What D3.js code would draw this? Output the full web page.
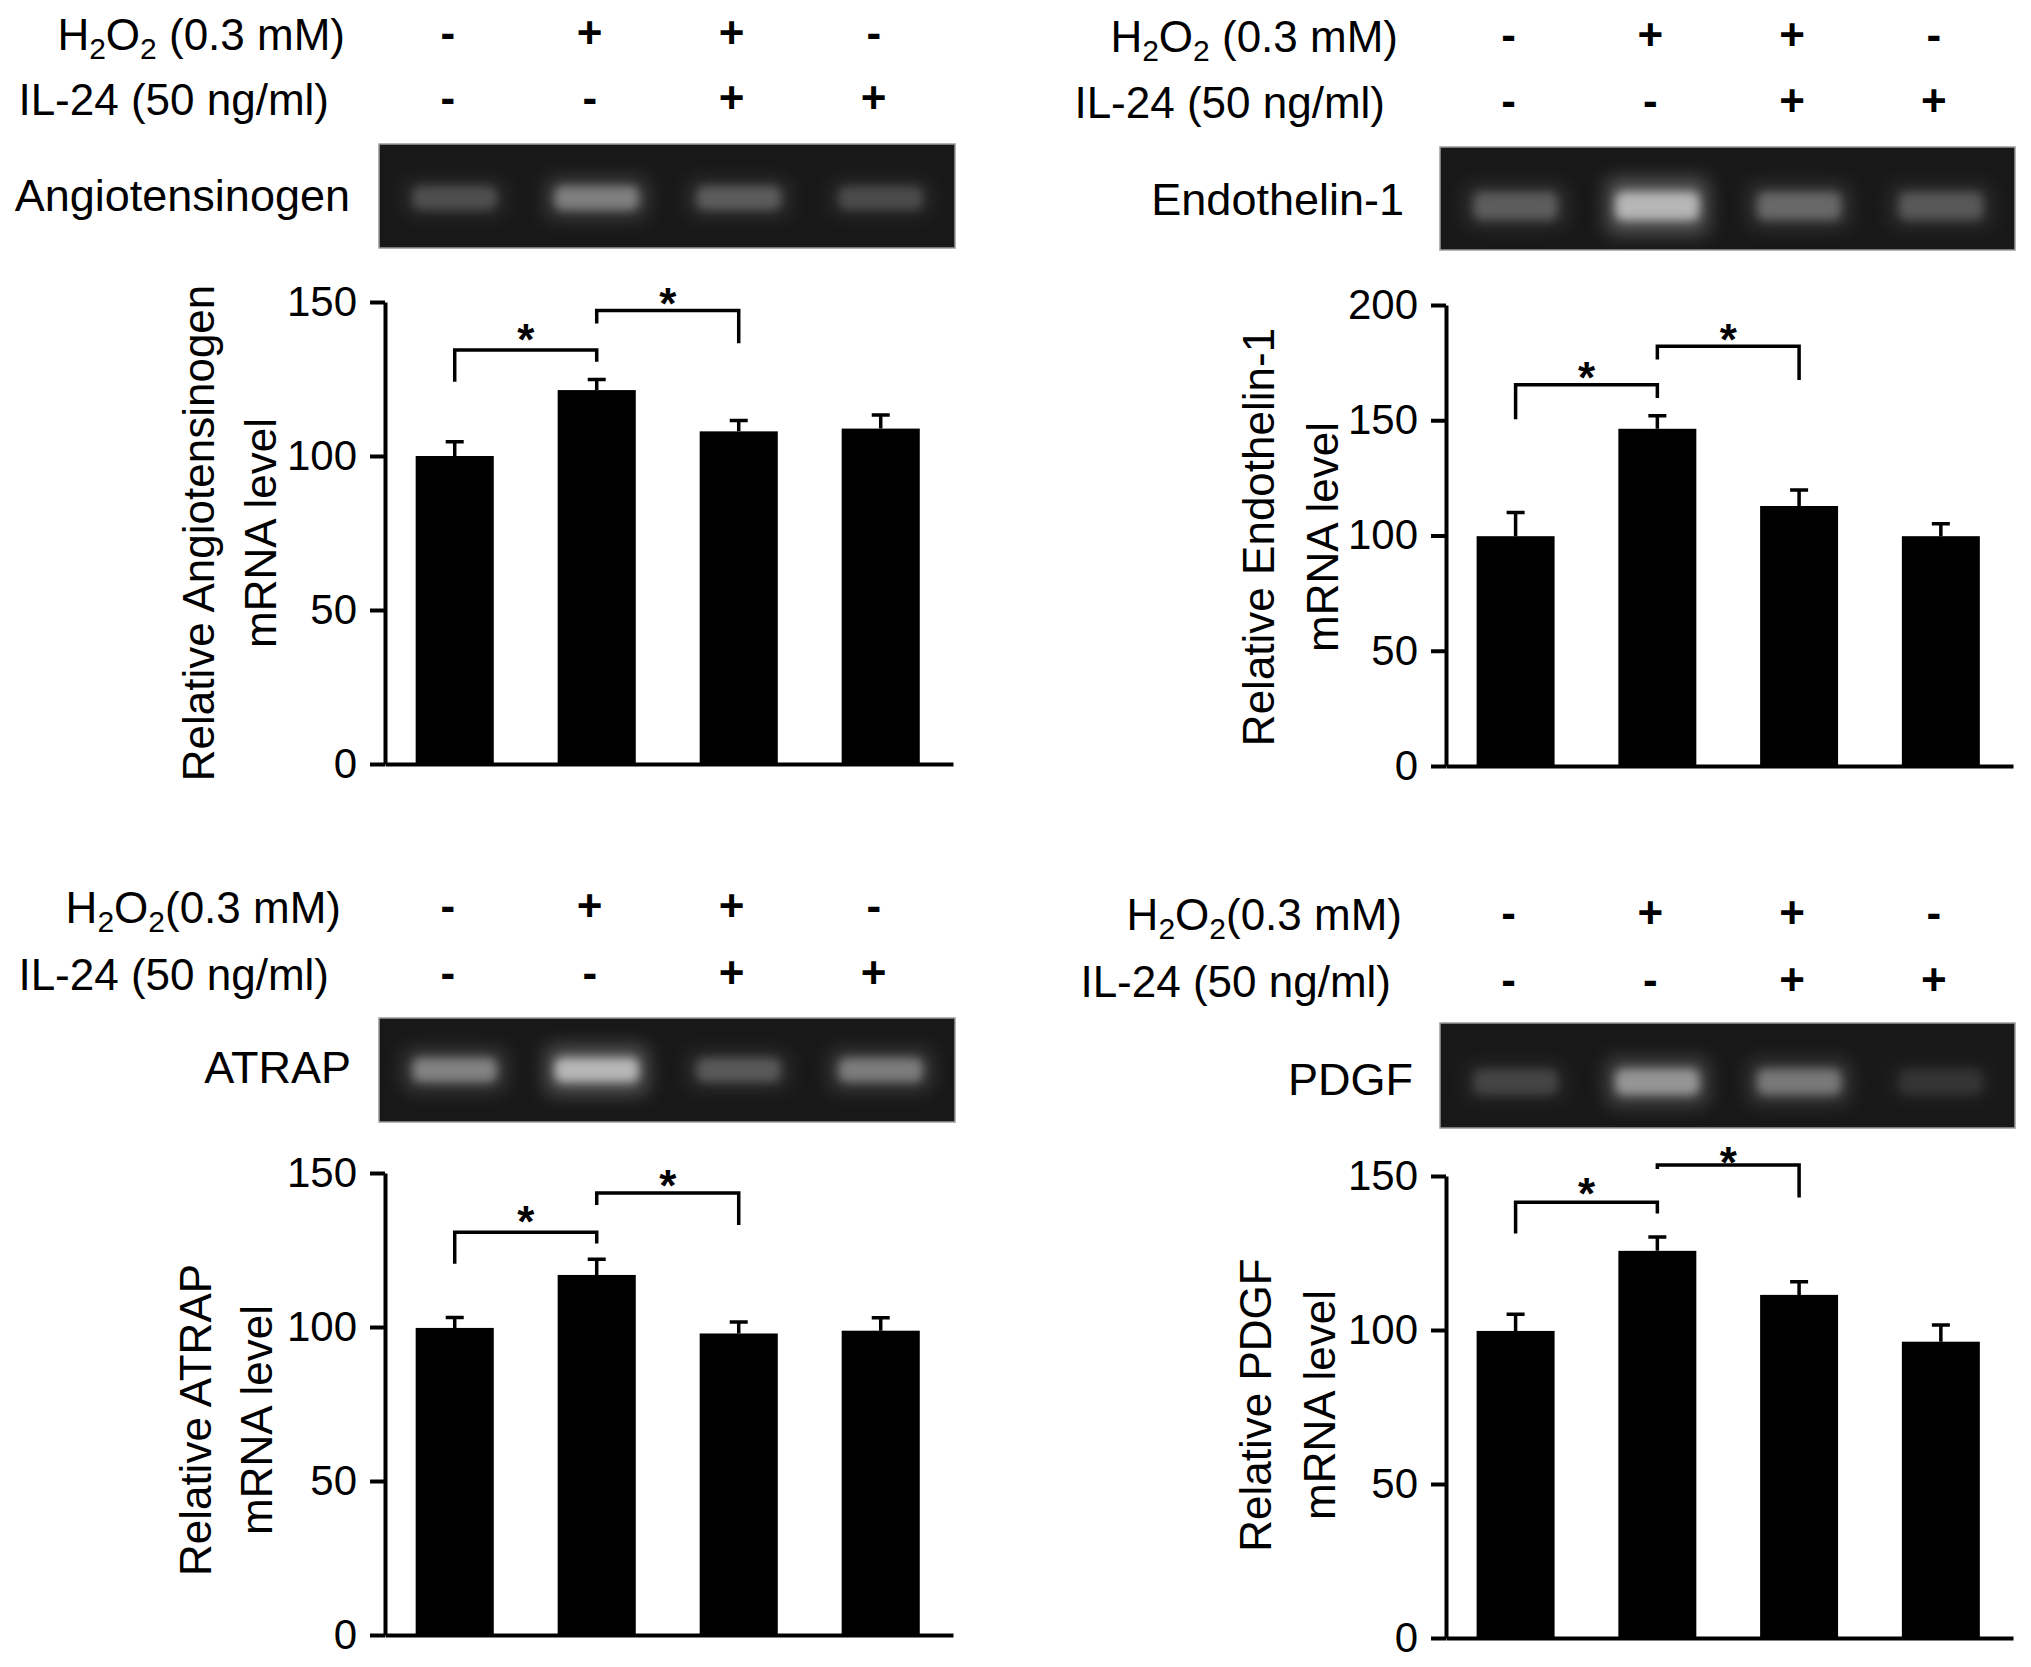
<!DOCTYPE html>
<html>
<head>
<meta charset="utf-8">
<script src="https://cdn.jsdelivr.net/npm/d3@7"></script>
<style>
body { margin: 0; background: #fff; }
svg text { font-family: "Liberation Sans", Arial, sans-serif; fill: #000; }
</style>
</head>
<body>
<div id="fig"></div>
<script>
var width = 2031
var height = 1667

// groups / treatment signs
var groups = ["ctrl", "h2o2", "h2o2_il24", "il24"]
var h2o2Signs = ["-", "+", "+", "-"]
var il24Signs = ["-", "-", "+", "+"]

// bar values (mean) and error (SE)
var angMean = [100, 121.4, 108, 108.9]
var angErr = [4.6, 3.4, 3.5, 4.4]
var et1Mean = [99.7, 146.3, 112.8, 99.7]
var et1Err = [10.3, 5.6, 6.9, 5.4]
var atrapMean = [99.7, 116.9, 97.9, 98.8]
var atrapErr = [3.4, 5.1, 3.7, 4.2]
var pdgfMean = [99.7, 125.7, 111.4, 96.2]
var pdgfErr = [5.4, 4.5, 4.3, 5.4]

// gel band brightness per lane (0..1)
var angBand = [0.3, 0.6, 0.38, 0.28]
var et1Band = [0.38, 1, 0.45, 0.35]
var atrapBand = [0.62, 1, 0.36, 0.58]
var pdgfBand = [0.24, 0.75, 0.55, 0.15]

// significance brackets: [from, to, level, left leg end, right leg end, star level]
var angBrackets = [[0, 1, 134.4, 124.1, 130.6, 141.3], [1, 2, 147.2, 143.0, 136.6, 153.0]]
var et1Brackets = [[0, 1, 165.4, 150.4, 159.7, 173.1], [1, 2, 182.1, 176.4, 167.5, 189.6]]
var atrapBrackets = [[0, 1, 130.8, 120.5, 127.1, 137.6], [1, 2, 143.5, 139.6, 133.1, 149.4]]
var pdgfBrackets = [[0, 1, 141.5, 131.3, 137.8, 147.7], [1, 2, 153.6, 152.3, 143.0, 157.9]]

var ticks150 = [0, 50, 100, 150]
var ticks200 = [0, 50, 100, 150, 200]

var panels = [
    {gene: "Angiotensinogen", title: "Relative Angiotensinogen", mean: angMean, err: angErr, band: angBand,
     brackets: angBrackets, ticks: ticks150, space: " ",
     xr: [385, 953], yr: [764, 302], rows: [50, 115], rowX: [345, 329],
     gel: [144, 248], bandY: 198, bandH: 24, geneX: 350, geneY: 211, titleX: [214, 276], titleY: 533},
    {gene: "Endothelin-1", title: "Relative Endothelin-1", mean: et1Mean, err: et1Err, band: et1Band,
     brackets: et1Brackets, ticks: ticks200, space: " ",
     xr: [1446, 2013], yr: [766, 305], rows: [52, 118], rowX: [1398, 1385],
     gel: [147, 250], bandY: 206, bandH: 28, geneX: 1404, geneY: 215, titleX: [1274, 1338], titleY: 537},
    {gene: "ATRAP", title: "Relative ATRAP", mean: atrapMean, err: atrapErr, band: atrapBand,
     brackets: atrapBrackets, ticks: ticks150, space: "",
     xr: [385, 953], yr: [1635, 1173], rows: [923, 990], rowX: [341, 329],
     gel: [1018, 1122], bandY: 1070, bandH: 24, geneX: 351, geneY: 1083, titleX: [211, 272], titleY: 1420},
    {gene: "PDGF", title: "Relative PDGF", mean: pdgfMean, err: pdgfErr, band: pdgfBand,
     brackets: pdgfBrackets, ticks: ticks150, space: "",
     xr: [1446, 2013], yr: [1638, 1176], rows: [930, 997], rowX: [1402, 1391],
     gel: [1023, 1128], bandY: 1082, bandH: 26, geneX: 1413, geneY: 1095, titleX: [1271, 1335], titleY: 1405}
]

var svg = d3.select("#fig").append("svg")
            .attr("width", width)
            .attr("height", height)

var defs = svg.append("defs")
defs.append("filter").attr("id", "glow").attr("x", "-50%").attr("y", "-100%")
    .attr("width", "200%").attr("height", "300%")
    .append("feGaussianBlur").attr("stdDeviation", 10)
defs.append("filter").attr("id", "core").attr("x", "-50%").attr("y", "-100%")
    .attr("width", "200%").attr("height", "300%")
    .append("feGaussianBlur").attr("stdDeviation", 5)

const fs = 44

const drawPanel = p => {
    const g = svg.append("g")

    const xScale = d3.scaleBand()
        .domain(groups)
        .range(p.xr)
        .paddingInner(0.45)
        .paddingOuter(0.225)
        .align(0.48)

    const yScale = d3.scaleLinear()
        .domain([0, d3.max(p.ticks)])
        .range(p.yr)

    const cx = i => xScale(groups[i]) + xScale.bandwidth() / 2

    // treatment rows
    const r1 = g.append("text")
        .attr("x", p.rowX[0]).attr("y", p.rows[0])
        .attr("text-anchor", "end").attr("font-size", fs)
    r1.append("tspan").text("H")
    r1.append("tspan").text("2").attr("font-size", 30).attr("dy", 9)
    r1.append("tspan").text("O").attr("dy", -9)
    r1.append("tspan").text("2").attr("font-size", 30).attr("dy", 9)
    r1.append("tspan").text(p.space + "(0.3 mM)").attr("dy", -9)

    g.append("text")
        .attr("x", p.rowX[1]).attr("y", p.rows[1])
        .attr("text-anchor", "end").attr("font-size", fs)
        .text("IL-24 (50 ng/ml)")

    g.selectAll(".s1").data(h2o2Signs).enter().append("text")
        .attr("x", (d, i) => cx(i) - 7)
        .attr("y", p.rows[0] - 2)
        .attr("text-anchor", "middle").attr("font-size", fs).attr("font-weight", "bold")
        .text(d => d)

    g.selectAll(".s2").data(il24Signs).enter().append("text")
        .attr("x", (d, i) => cx(i) - 7)
        .attr("y", p.rows[1] - 2)
        .attr("text-anchor", "middle").attr("font-size", fs).attr("font-weight", "bold")
        .text(d => d)

    // gel image
    g.append("rect")
        .attr("x", p.xr[0] - 6).attr("y", p.gel[0])
        .attr("width", p.xr[1] - p.xr[0] + 8).attr("height", p.gel[1] - p.gel[0])
        .attr("fill", "#181818").attr("stroke", "#9a9a9a").attr("stroke-width", 1.5)

    g.selectAll(".glow").data(p.band).enter().append("rect")
        .attr("x", (d, i) => cx(i) - 50)
        .attr("y", d => p.bandY - p.bandH * (0.6 + 0.35 * d))
        .attr("width", 100)
        .attr("height", d => p.bandH * (1.2 + 0.7 * d))
        .attr("fill", "#fff").attr("opacity", d => 0.3 * d)
        .attr("filter", "url(#glow)")

    g.selectAll(".core").data(p.band).enter().append("rect")
        .attr("x", (d, i) => cx(i) - 42)
        .attr("y", d => p.bandY - p.bandH / 2)
        .attr("width", 84)
        .attr("height", p.bandH)
        .attr("rx", 8)
        .attr("fill", "#fff").attr("opacity", d => 0.55 * d)
        .attr("filter", "url(#core)")

    g.append("text")
        .attr("x", p.geneX).attr("y", p.geneY)
        .attr("text-anchor", "end").attr("font-size", 45)
        .text(p.gene)

    // axes
    const yAxis = d3.axisLeft(yScale)
        .tickValues(p.ticks)
        .tickSize(15)
        .tickSizeOuter(0)
        .tickPadding(13)
    const xAxis = d3.axisBottom(xScale).tickSize(0).tickSizeOuter(0).tickFormat("")

    const ya = g.append("g")
        .attr("transform", `translate(${p.xr[0]}, 0)`)
        .call(yAxis)
    ya.attr("font-size", 42).attr("font-family", "Liberation Sans, Arial, sans-serif")
    ya.selectAll("path, line").attr("stroke", "#000").attr("stroke-width", 4)

    const xa = g.append("g")
        .attr("transform", `translate(0, ${p.yr[0]})`)
        .call(xAxis)
    xa.selectAll("path").attr("stroke", "#000").attr("stroke-width", 4)

    // axis title
    g.append("text")
        .attr("transform", `translate(${p.titleX[0]}, ${p.titleY}) rotate(-90)`)
        .attr("text-anchor", "middle").attr("font-size", fs)
        .text(p.title)
    g.append("text")
        .attr("transform", `translate(${p.titleX[1]}, ${p.titleY}) rotate(-90)`)
        .attr("text-anchor", "middle").attr("font-size", fs)
        .text("mRNA level")

    // bars
    g.selectAll(".bar").data(p.mean).enter().append("rect")
        .attr("x", (d, i) => xScale(groups[i]))
        .attr("y", d => yScale(d))
        .attr("width", xScale.bandwidth())
        .attr("height", d => yScale(0) - yScale(d))
        .attr("fill", "#000")

    // error bars
    g.selectAll(".err").data(p.mean).enter().append("path")
        .attr("d", (d, i) => {
            const top = yScale(d + p.err[i])
            return `M${cx(i)},${yScale(d)}V${top}M${cx(i) - 9},${top}H${cx(i) + 9}`
        })
        .attr("stroke", "#000").attr("stroke-width", 3.5).attr("fill", "none")

    // significance brackets
    g.selectAll(".br").data(p.brackets).enter().append("path")
        .attr("d", b => `M${cx(b[0])},${yScale(b[3])}V${yScale(b[2])}H${cx(b[1])}V${yScale(b[4])}`)
        .attr("stroke", "#000").attr("stroke-width", 3.5).attr("fill", "none")

    g.selectAll(".star").data(p.brackets).enter().append("text")
        .attr("x", b => (cx(b[0]) + cx(b[1])) / 2)
        .attr("y", b => yScale(b[5]) + 26)
        .attr("text-anchor", "middle").attr("font-size", 44).attr("font-weight", "bold")
        .text("*")
}

panels.forEach(drawPanel)
</script>
</body>
</html>
